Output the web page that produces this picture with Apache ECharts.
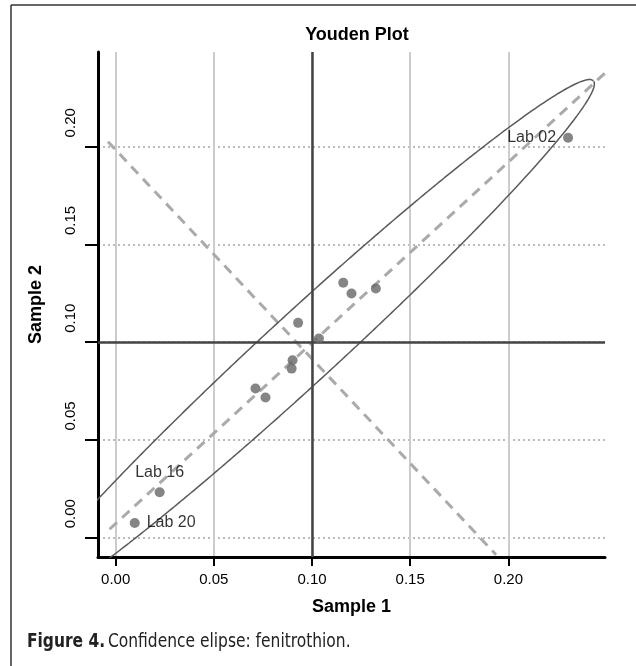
<!DOCTYPE html>
<html>
<head>
<meta charset="utf-8">
<script src="https://cdn.jsdelivr.net/npm/echarts@6/dist/echarts.min.js"></script>
<style>
  html, body { margin: 0; padding: 0; background: #fff; }
  #chart { width: 636px; height: 666px; }
</style>
</head>
<body>
<div id="chart"></div>
<script>
// Youden plot: fenitrothion, sample 1 vs sample 2
const labNames = ['Lab 02', '', '', '', '', '', '', '', '', '', 'Lab 16', 'Lab 20'];
const sample1 = [0.2304, 0.1159, 0.1201, 0.1325, 0.0929, 0.1035, 0.0901, 0.0896, 0.0712, 0.0763, 0.0224, 0.0097];
const sample2 = [0.2046, 0.1304, 0.1249, 0.1275, 0.1099, 0.1019, 0.0908, 0.0865, 0.0763, 0.0717, 0.0232, 0.0075];

const tickValues = [0, 0.05, 0.10, 0.15, 0.20];
const xRange = [-0.009, 0.2492];
const yRange = [-0.0099, 0.2485];

// median lines
const medianX = 0.0998;
const medianY = 0.1005;

// confidence ellipse: centre, semi axes, tilt in degrees
const ellipseCentre = [0.0956, 0.0975];
const ellipseAxes = [0.201, 0.018];
const ellipseAngle = 42.7;

// dashed axes of the ellipse, end points
const majorLine = [[-0.0031, 0.0043], [0.2492, 0.2377]];
const minorLine = [[-0.0039, 0.2026], [0.1937, -0.0087]];

const labelPlace = { 'Lab 02': 'left', 'Lab 16': 'top', 'Lab 20': 'right' };

const ellipsePts = [];
const tilt = ellipseAngle * Math.PI / 180;
for (let i = 0; i <= 720; i++) {
  const a = i * Math.PI / 360;
  const u = ellipseAxes[0] * Math.cos(a);
  const v = ellipseAxes[1] * Math.sin(a);
  ellipsePts.push([
    ellipseCentre[0] + u * Math.cos(tilt) - v * Math.sin(tilt),
    ellipseCentre[1] + u * Math.sin(tilt) + v * Math.cos(tilt)
  ]);
}

const points = sample1.map((x, i) => {
  const item = { value: [x, sample2[i]], name: labNames[i] };
  if (labNames[i]) {
    item.label = { show: true, position: labelPlace[labNames[i]], distance: 7 };
  }
  return item;
});

const font = 'Liberation Sans, Arial, sans-serif';
const capFont = 'Liberation Sans Narrow, DejaVu Sans Condensed, sans-serif';
const dashed = { color: '#aaa', width: 3, type: [10, 7] };

const chart = echarts.init(document.getElementById('chart'));
chart.setOption({
  animation: false,
  textStyle: { fontFamily: font },
  title: {
    text: 'Youden Plot',
    left: 352,
    textAlign: 'center',
    top: 21,
    textStyle: { fontSize: 18, fontWeight: 'bold', color: '#000', fontFamily: font }
  },
  graphic: [
    { type: 'line', shape: { x1: 11, y1: 5, x2: 636, y2: 5 }, style: { stroke: '#333', lineWidth: 1.5 } },
    { type: 'line', shape: { x1: 11, y1: 5, x2: 11, y2: 666 }, style: { stroke: '#333', lineWidth: 1.5 } },
    {
      type: 'text',
      x: 27,
      y: 642,
      scaleX: 0.86,
      style: {
        text: '{b|Figure 4.} {n|Confidence elipse: fenitrothion.}',
        verticalAlign: 'middle',
        rich: {
          b: { fontSize: 20, fontWeight: 'bold', fill: '#222', fontFamily: capFont },
          n: { fontSize: 20, fontWeight: 'normal', fill: '#222', fontFamily: capFont }
        }
      }
    }
  ],
  grid: { left: 98, right: 31, top: 52, bottom: 109 },
  xAxis: {
    type: 'value',
    min: xRange[0],
    max: xRange[1],
    name: 'Sample 1',
    nameLocation: 'middle',
    nameGap: 41,
    nameTextStyle: { fontSize: 18, fontWeight: 'bold', color: '#000' },
    axisLine: { show: true, onZero: false, lineStyle: { color: '#000', width: 3 } },
    axisTick: { show: true, customValues: tickValues, length: 9, lineStyle: { color: '#000', width: 2 } },
    axisLabel: { customValues: tickValues, formatter: v => v.toFixed(2), fontSize: 15, color: '#000', margin: 15 },
    splitLine: { show: true, lineStyle: { color: '#ccc', width: 2 } }
  },
  yAxis: {
    type: 'value',
    min: yRange[0],
    max: yRange[1],
    name: 'Sample 2',
    nameLocation: 'middle',
    nameGap: 53,
    nameTextStyle: { fontSize: 18, fontWeight: 'bold', color: '#000' },
    axisLine: { show: true, onZero: false, lineStyle: { color: '#000', width: 3 } },
    axisTick: { show: true, customValues: tickValues, length: 13, lineStyle: { color: '#000', width: 2 } },
    axisLabel: { customValues: tickValues, formatter: v => v.toFixed(2), fontSize: 15, color: '#000', margin: 20, rotate: 90, padding: [0, 0, 0, 48] },
    splitLine: { show: true, lineStyle: { color: '#bbb', width: 2, type: [2, 3] } }
  },
  series: [
    {
      type: 'line',
      data: ellipsePts,
      showSymbol: false,
      symbol: 'none',
      clip: true,
      lineStyle: { color: '#5a5a5a', width: 1.5 },
      z: 3
    },
    {
      type: 'line',
      data: majorLine,
      symbol: 'none',
      clip: true,
      lineStyle: dashed,
      z: 2
    },
    {
      type: 'line',
      data: minorLine,
      symbol: 'none',
      clip: true,
      lineStyle: dashed,
      z: 2
    },
    {
      type: 'scatter',
      data: points,
      symbolSize: 10,
      itemStyle: { color: '#666' },
      label: { color: '#000', fontSize: 16, formatter: '{b}' },
      z: 5,
      markLine: {
        silent: true,
        symbol: 'none',
        label: { show: false },
        lineStyle: { color: '#444', width: 2.5, type: 'solid' },
        data: [{ xAxis: medianX }, { yAxis: medianY }]
      }
    }
  ]
});
</script>
</body>
</html>
